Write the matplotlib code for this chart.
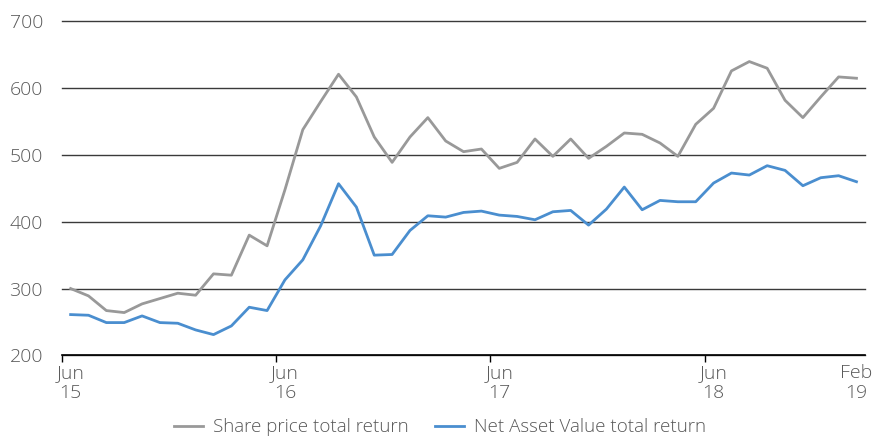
import matplotlib
matplotlib.use("Agg")
import matplotlib.pyplot as plt
import numpy as np

plt.rcParams['font.family'] = ['Open Sans', 'DejaVu Sans']

months = ["Jun 15", "Jul 15", "Aug 15", "Sep 15", "Oct 15", "Nov 15", "Dec 15", "Jan 16",
          "Feb 16", "Mar 16", "Apr 16", "May 16", "Jun 16", "Jul 16", "Aug 16", "Sep 16",
          "Oct 16", "Nov 16", "Dec 16", "Jan 17", "Feb 17", "Mar 17", "Apr 17", "May 17",
          "Jun 17", "Jul 17", "Aug 17", "Sep 17", "Oct 17", "Nov 17", "Dec 17", "Jan 18",
          "Feb 18", "Mar 18", "Apr 18", "May 18", "Jun 18", "Jul 18", "Aug 18", "Sep 18",
          "Oct 18", "Nov 18", "Dec 18", "Jan 19", "Feb 19"]

share_price = [300, 289, 267, 264, 277, 285, 293, 290, 322, 320, 380, 364, 448, 538, 580, 621,
               587, 527, 489, 527, 556, 521, 505, 509, 480, 489, 524, 498, 524, 495, 513, 533,
               531, 518, 498, 546, 570, 626, 640, 630, 582, 556, 587, 617, 615]

nav = [261, 260, 249, 249, 259, 249, 248, 238, 231, 244, 272, 267, 313, 343, 394, 457,
       422, 350, 351, 387, 409, 407, 414, 416, 410, 408, 403, 415, 417, 395, 419, 452,
       418, 432, 430, 430, 458, 473, 470, 484, 477, 454, 466, 469, 460]

tick_labels = {0: "Jun\n15", 12: "Jun\n16", 24: "Jun\n17", 36: "Jun\n18", 44: "Feb\n19"}

fig = plt.figure(figsize=(8.8, 4.37), dpi=100)
ax = fig.add_axes([61.7 / 880, 1 - 355.3 / 437, (865.4 - 61.7) / 880, (355.3 - 21.5) / 437])

x = np.arange(len(months))
ax.plot(x, share_price, color="#999999", lw=2.0, label="Share price total return")
ax.plot(x, nav, color="#4A8ECF", lw=2.0, label="Net Asset Value total return")

ax.set_xlim(-0.5, len(months) - 0.5)
ax.set_ylim(200, 700)
ax.set_yticks([200, 300, 400, 500, 600, 700])
ax.yaxis.grid(True, color="#3a3a3a", lw=1.0)
ax.set_axisbelow(True)
for gl in ax.get_ygridlines():
    gl.set_clip_on(False)

for s in ["top", "right", "left"]:
    ax.spines[s].set_visible(False)
ax.spines["bottom"].set_color("#000000")
ax.spines["bottom"].set_linewidth(1.2)

ax.tick_params(axis="y", length=0, pad=13.5, labelsize=14, labelcolor="#595959")
ax.set_xticks(list(tick_labels.keys()))
ax.set_xticklabels(list(tick_labels.values()), fontsize=14, color="#595959", linespacing=1.15)
ax.tick_params(axis="x", length=0, pad=6)
# minor ticks at category boundaries
ax.set_xticks([-0.5 + 12 * k for k in range(4)], minor=True)
ax.tick_params(axis="x", which="minor", length=5, color="#000000", width=1)

for lab in ax.get_yticklabels() + ax.get_xticklabels():
    lab.set_fontweight("light")

leg = ax.legend(loc="center", bbox_to_anchor=(0.471, -0.215), ncol=2, frameon=False,
                fontsize=13.5, handlelength=1.55, handletextpad=0.53, columnspacing=1.4,
                labelcolor="#595959")
for t in leg.get_texts():
    t.set_fontweight("light")

fig.savefig("out.png", dpi=100)
